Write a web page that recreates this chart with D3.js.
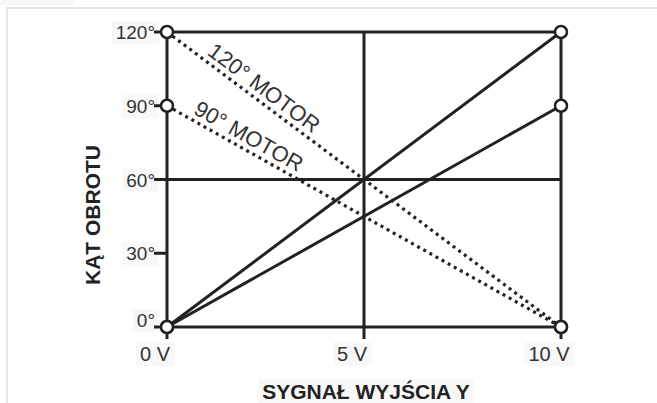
<!DOCTYPE html>
<html>
<head>
<meta charset="utf-8">
<script src="https://cdn.jsdelivr.net/npm/d3@7"></script>
<style>
  body { margin: 0; background: #fff; }
  text { font-family: "Liberation Sans", Arial, sans-serif; }
</style>
</head>
<body>
<div id="chart"></div>
<script>
// signal (volts) and tick labels
var voltTicks = [0, 5, 10];
var voltLabels = ["0 V", "5 V", "10 V"];
var angleTicks = [0, 30, 60, 90, 120];
var angleLabels = ["0°", "30°", "60°", "90°", "120°"];
var gridAngles = [0, 60, 120];

// series: angle at 0 V and at 10 V
var signal = [0, 10];
var rise120 = [0, 120];
var rise90 = [0, 90];
var fall120 = [120, 0];
var fall90 = [90, 0];
var motorNames = ["120° MOTOR", "90° MOTOR"];

var W = 657, H = 403;
var ink = "#222";

var x = d3.scaleLinear().domain([0, 10]).range([167, 561]);
var y = d3.scaleLinear().domain([0, 120]).range([327, 32]);

var svg = d3.select("#chart").append("svg")
    .attr("width", W)
    .attr("height", H);

// light outer frame
svg.append("path")
    .attr("d", "M7," + H + "V8H" + W)
    .attr("fill", "none")
    .attr("stroke", "#e6e6e6")
    .attr("stroke-width", 2);

var labels = svg.append("g");

// grid
svg.selectAll(".hgrid")
    .data(gridAngles)
    .enter().append("line")
    .attr("x1", x(0)).attr("x2", x(10))
    .attr("y1", function(d) { return y(d); })
    .attr("y2", function(d) { return y(d); })
    .attr("stroke", ink).attr("stroke-width", 3);

svg.selectAll(".vgrid")
    .data(voltTicks)
    .enter().append("line")
    .attr("x1", function(d) { return x(d); })
    .attr("x2", function(d) { return x(d); })
    .attr("y1", y(120)).attr("y2", y(0) + 12)
    .attr("stroke", ink).attr("stroke-width", 3);

// y ticks
svg.selectAll(".ytick")
    .data(angleTicks)
    .enter().append("line")
    .attr("x1", x(0) - 13).attr("x2", x(0))
    .attr("y1", function(d) { return y(d); })
    .attr("y2", function(d) { return y(d); })
    .attr("stroke", ink).attr("stroke-width", 3);

function addLabel(sel) {
  // faint box behind each label
  sel.each(function() {
    var b = this.getBBox();
    labels.append("rect")
      .attr("x", b.x - 4).attr("y", b.y - 1)
      .attr("width", b.width + 8).attr("height", b.height + 2)
      .attr("fill", "#f8f8f8");
  });
}

var yl = svg.selectAll(".ylab")
    .data(angleTicks)
    .enter().append("text")
    .attr("x", x(0) - 12)
    .attr("y", function(d) { return y(d) + (d === 0 ? 0 : 7); })
    .attr("text-anchor", "end")
    .attr("font-size", 19)
    .attr("fill", "#333")
    .text(function(d, i) { return angleLabels[i]; });
addLabel(yl);

var xl = svg.selectAll(".xlab")
    .data(voltTicks)
    .enter().append("text")
    .attr("x", function(d) { return x(d) - 12; })
    .attr("y", 361)
    .attr("text-anchor", "middle")
    .attr("font-size", 20)
    .attr("fill", "#333")
    .text(function(d, i) { return voltLabels[i]; });
addLabel(xl);

// axis titles
var xt = svg.append("text")
    .attr("x", 366).attr("y", 399)
    .attr("text-anchor", "middle")
    .attr("font-size", 21).attr("font-weight", "bold")
    .attr("fill", ink)
    .text("SYGNAŁ WYJŚCIA Y");
addLabel(xt);

var yt = svg.append("text")
    .attr("transform", "translate(100,215) rotate(-90)")
    .attr("text-anchor", "middle")
    .attr("font-size", 21).attr("font-weight", "bold")
    .attr("fill", ink)
    .text("KĄT OBROTU");
addLabel(yt);

var line = d3.line()
    .x(function(d, i) { return x(signal[i]); })
    .y(function(d) { return y(d); });

// dotted falling lines
[fall120, fall90].forEach(function(s) {
  svg.append("path")
    .attr("d", line(s))
    .attr("fill", "none")
    .attr("stroke", ink)
    .attr("stroke-width", 3.2)
    .attr("stroke-dasharray", "3,4");
});

// solid rising lines
[rise120, rise90].forEach(function(s) {
  svg.append("path")
    .attr("d", line(s))
    .attr("fill", "none")
    .attr("stroke", ink)
    .attr("stroke-width", 3);
});

// motor labels along dotted lines
var labelAt = [2.26, 1.91];
[fall120, fall90].forEach(function(s, i) {
  var x0 = x(signal[0]), y0 = y(s[0]), x1 = x(signal[1]), y1 = y(s[1]);
  var ang = Math.atan2(y1 - y0, x1 - x0) * 180 / Math.PI;
  var v = labelAt[i];
  var px = x(v), py = y(s[0] + (s[1] - s[0]) * v / 10);
  svg.append("text")
    .attr("transform", "translate(" + px + "," + py + ") rotate(" + ang + ")")
    .attr("y", -6)
    .attr("text-anchor", "middle")
    .attr("font-size", 22)
    .attr("fill", "#333")
    .text(motorNames[i]);
});

// end markers
var ends = [];
[rise120, rise90, fall120, fall90].forEach(function(s) {
  s.forEach(function(v, i) { ends.push([signal[i], v]); });
});
svg.selectAll(".end")
    .data(ends)
    .enter().append("circle")
    .attr("cx", function(d) { return x(d[0]); })
    .attr("cy", function(d) { return y(d[1]); })
    .attr("r", 6)
    .attr("fill", "#fff")
    .attr("stroke", ink)
    .attr("stroke-width", 2.5);
</script>
</body>
</html>
